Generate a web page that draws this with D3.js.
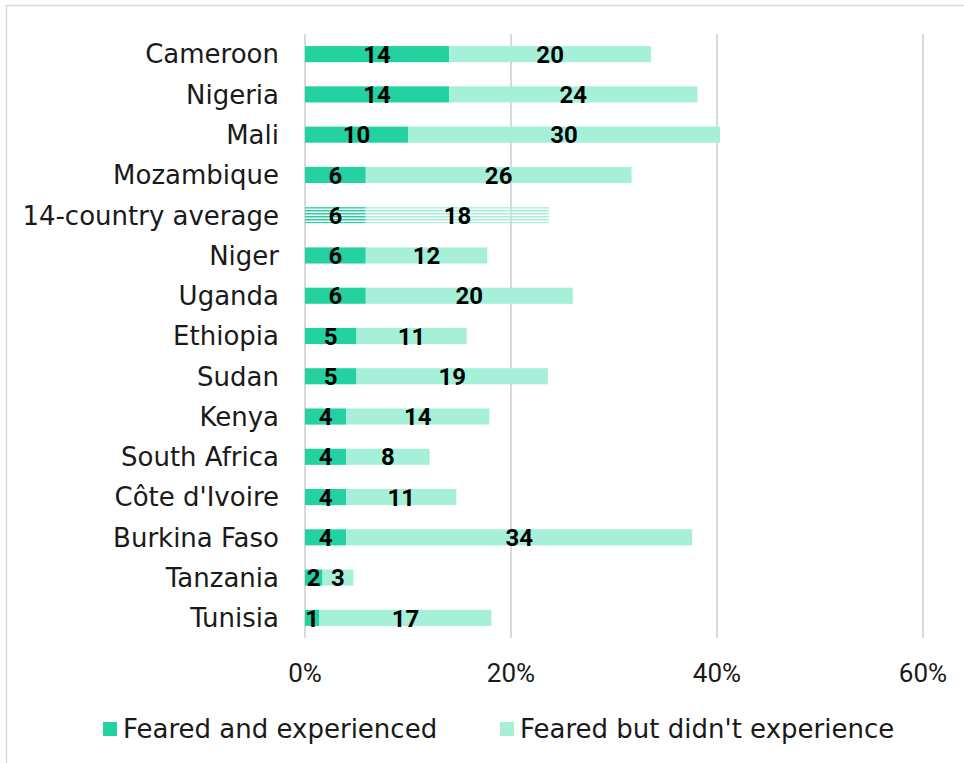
<!DOCTYPE html>
<html><head><meta charset="utf-8">
<script src="https://cdn.jsdelivr.net/npm/d3@7"></script>
<style>body{margin:0;background:#fff}svg{display:block}text{font-family:"DejaVu Sans",sans-serif}</style>
</head><body><svg id="c" width="964" height="763"></svg>
<script>
const categories = ["Cameroon","Nigeria","Mali","Mozambique","14-country average","Niger","Uganda","Ethiopia","Sudan","Kenya","South Africa","Côte d'Ivoire","Burkina Faso","Tanzania","Tunisia"];
const fearedExperienced = [14.0,14.0,10.0,5.9,5.9,5.9,5.9,5.0,5.0,4.0,4.0,4.0,4.0,1.7,1.4];
const fearedNotExperienced = [19.6,24.1,30.3,25.8,17.8,11.8,20.1,10.7,18.6,13.9,8.1,10.7,33.6,3.0,16.7];
const xTicks = [0,20,40,60];
const seriesNames = ["Feared and experienced","Feared but didn't experience"];
const colors = ["#24D1A0","#A6F0DA"];
const averageName = "14-country average";

const svg = d3.select("#c");
const x = d3.scaleLinear().domain([0,60]).range([305,923]);
const y = d3.scaleBand().domain(categories).range([34,638]).paddingInner(0.6).paddingOuter(0.3);

// border
svg.append("path").attr("d","M6.5,763V5.5H964").attr("fill","none").attr("stroke","#d9d9d9").attr("stroke-width",1.5);

const defs = svg.append("defs");
colors.forEach((c,i)=>{
  const p = defs.append("pattern").attr("id","stripe"+i).attr("patternUnits","userSpaceOnUse").attr("width",8).attr("height",3);
  p.append("rect").attr("width",8).attr("height",1.5).attr("fill",c);
});

// grid
svg.append("g").selectAll("line").data(xTicks).join("line")
  .attr("x1",d=>x(d)).attr("x2",d=>x(d)).attr("y1",34).attr("y2",638)
  .attr("stroke","#d9d9d9").attr("stroke-width",2);

const rows = categories.map((c,i)=>({c, a:fearedExperienced[i], b:fearedNotExperienced[i]}));
const g = svg.append("g");
rows.forEach(r=>{
  const isAvg = r.c===averageName;
  const segs = [{x0:0,x1:r.a,v:r.a,i:0},{x0:r.a,x1:r.a+r.b,v:r.b,i:1}];
  segs.forEach(s=>{
    g.append("rect").attr("x",x(s.x0)).attr("width",x(s.x1)-x(s.x0))
      .attr("y",y(r.c)).attr("height",y.bandwidth())
      .attr("fill",isAvg?`url(#stripe${s.i})`:colors[s.i]);
  });
  segs.forEach(s=>{
    g.append("text").attr("x",(x(s.x0)+x(s.x1))/2).attr("y",y(r.c)+y.bandwidth()/2)
      .attr("dy","0.36em").attr("text-anchor","middle").attr("font-weight","bold")
      .style("font-family","Roboto, sans-serif")
      .attr("font-size",24).attr("fill","#000").text(Math.round(s.v));
  });
});

// y labels
svg.append("g").selectAll("text").data(categories).join("text")
  .attr("x",279).attr("y",d=>y(d)+y.bandwidth()/2).attr("dy","0.36em")
  .attr("text-anchor","end").attr("font-size",26).attr("fill","#1a1a1a").text(d=>d);

// x tick labels
svg.append("g").selectAll("text").data(xTicks).join("text")
  .attr("x",d=>x(d)).attr("y",673).attr("dy","0.36em").attr("text-anchor","middle")
  .style("font-family","Roboto, sans-serif")
  .attr("font-size",26).attr("fill","#1a1a1a").text(d=>d+"%");

// legend
const leg = svg.append("g");
const legX = [103,500];
seriesNames.forEach((n,i)=>{
  leg.append("rect").attr("x",legX[i]).attr("y",722).attr("width",14).attr("height",14).attr("fill",colors[i]);
  leg.append("text").attr("x",legX[i]+20).attr("y",729).attr("dy","0.36em").attr("font-size",26).attr("fill","#1a1a1a").text(n);
});
</script></body></html>
